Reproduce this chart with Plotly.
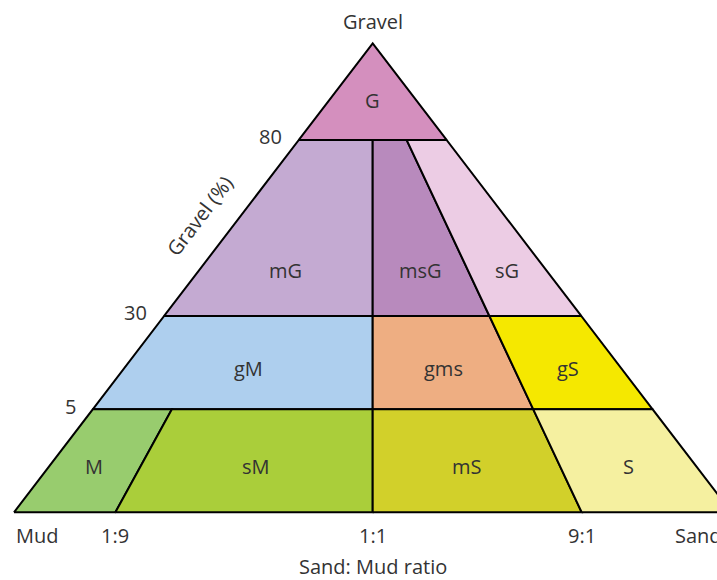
import plotly.graph_objects as go

# ---------------- data (Folk gravel–sand–mud classes) ----------------
class_names = ["G", "mG", "msG", "sG", "gM", "gms", "gS", "M", "sM", "mS", "S"]
gravel_lo = [80, 30, 30, 30, 5, 5, 5, 0, 0, 0, 0]
gravel_hi = [100, 80, 80, 80, 30, 30, 30, 5, 5, 5, 5]
ratio_lo = ["Mud", "Mud", "1:1", "9:1", "Mud", "1:1", "9:1", "Mud", "1:9", "1:1", "9:1"]
ratio_hi = ["Sand", "1:1", "9:1", "Sand", "1:1", "9:1", "Sand", "1:9", "1:1", "9:1", "Sand"]
class_colors = ["#D48FBE", "#C4AAD2", "#B88ABD", "#ECCCE4", "#AECFEE", "#EEAE82",
                "#F5E800", "#98CC6E", "#AACE3A", "#D2D02A", "#F5F0A0"]
gravel_ticks = [5, 30, 80]
ratio_ticks = ["1:9", "1:1", "9:1"]
end_members = ["Mud", "Sand", "Gravel"]

# ---------------- schematic scales of the diagram ----------------
# gravel % -> height (schematic, non-linear as drawn)
G_BREAKS = [0, 5, 30, 80, 100]
G_HEIGHT = [0.0, 0.2196, 0.4186, 0.794, 1.0]


def gscale(g):
    for i in range(len(G_BREAKS) - 1):
        a, b = G_BREAKS[i], G_BREAKS[i + 1]
        if a <= g <= b:
            t = (g - a) / (b - a)
            return G_HEIGHT[i] + t * (G_HEIGHT[i + 1] - G_HEIGHT[i])
    return G_HEIGHT[-1]


# sand:mud boundary lines: base position and lean toward apex
RATIO_LINES = {
    "Mud": (0.0, 0.5),
    "1:9": (0.1413, 0.3587),
    "1:1": (0.5, 0.0),
    "9:1": (0.7913, -0.3073),
    "Sand": (1.0, -0.5),
}


def rline(r, h):
    x0, k = RATIO_LINES[r]
    return x0 + k * h


# label height as fraction within each class band
label_frac = {80: 0.41, 30: 0.26, 5: 0.44, 0: 0.44}

FONT = "Open Sans, Noto Sans, sans-serif"
TXT = "#333333"
XU, YU = 717.4, 469.0  # pixels per unit

fig = go.Figure()
annotations = []
for name, glo, ghi, rlo, rhi, col in zip(class_names, gravel_lo, gravel_hi,
                                         ratio_lo, ratio_hi, class_colors):
    h0, h1 = gscale(glo), gscale(ghi)
    xs = [rline(rlo, h0), rline(rhi, h0), rline(rhi, h1), rline(rlo, h1), rline(rlo, h0)]
    ys = [h0, h0, h1, h1, h0]
    fig.add_trace(go.Scatter(x=xs, y=ys, mode="lines", fill="toself",
                             fillcolor=col, line=dict(color="black", width=2),
                             hoverinfo="skip", showlegend=False))
    hl = h0 + label_frac[glo] * (h1 - h0)
    xl = 0.5 * (rline(rlo, hl) + rline(rhi, hl))
    annotations.append(dict(x=xl, y=hl, text=name, showarrow=False,
                            font=dict(size=20, color=TXT, family=FONT)))

# gravel tick labels on the left edge
for g in gravel_ticks:
    h = gscale(g)
    annotations.append(dict(x=rline("Mud", h), y=h, text=str(g), showarrow=False,
                            xanchor="right", yanchor="middle", xshift=-15, yshift=3,
                            font=dict(size=20, color=TXT, family=FONT)))

# ratio tick labels on the base
BASE_Y = -0.05
for r in ratio_ticks:
    annotations.append(dict(x=rline(r, 0), y=BASE_Y, text=r, showarrow=False,
                            font=dict(size=20, color=TXT, family=FONT)))

# end members
annotations.append(dict(x=rline("Mud", 0), y=BASE_Y, text=end_members[0], showarrow=False,
                        xanchor="left", xshift=0, font=dict(size=20, color=TXT, family=FONT)))
annotations.append(dict(x=rline("Sand", 0) - 58 / XU, y=BASE_Y, text=end_members[1],
                        showarrow=False, xanchor="left",
                        font=dict(size=20, color=TXT, family=FONT)))
annotations.append(dict(x=0.5, y=1.0, text=end_members[2], showarrow=False,
                        yanchor="bottom", yshift=6, font=dict(size=20, color=TXT, family=FONT)))

# axis titles
annotations.append(dict(x=0.5, y=BASE_Y, text="Sand: Mud ratio", showarrow=False,
                        yshift=-31, font=dict(size=20, color=TXT, family=FONT)))
hg = 0.63
annotations.append(dict(x=rline("Mud", hg), y=hg, text="Gravel (%)", showarrow=False,
                        textangle=-52.6, xshift=-40, yshift=1,
                        font=dict(size=20, color=TXT, family=FONT)))

# figure fills the window; the diagram runs past its right edge, as in the reference
W, H = 717, 580
fig.update_layout(
    width=W, height=H,
    margin=dict(l=0, r=0, t=0, b=0),
    paper_bgcolor="white", plot_bgcolor="white",
    xaxis=dict(range=[(0 - 14) / XU, (W - 14) / XU], visible=False, fixedrange=True),
    yaxis=dict(range=[(512.3 - H) / YU, (512.3 - 0) / YU], visible=False, fixedrange=True),
    annotations=annotations,
    showlegend=False,
    hovermode=False,
)

fig.write_html(
    "out.html",
    config={"displayModeBar": False, "staticPlot": True},
    post_script="document.body.style.margin='0';document.body.style.overflow='hidden';",
)
